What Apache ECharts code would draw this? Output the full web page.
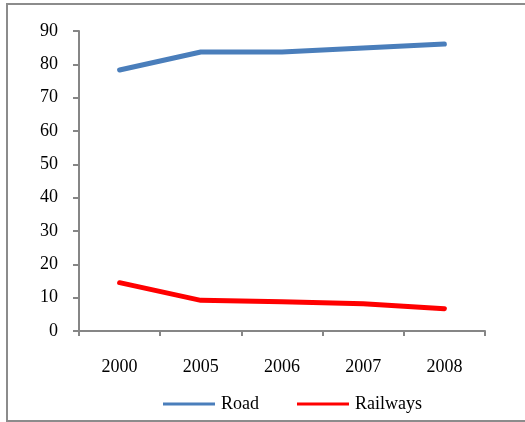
<!DOCTYPE html>
<html>
<head>
<meta charset="utf-8">
<script src="https://cdn.jsdelivr.net/npm/echarts@6/dist/echarts.min.js"></script>
<style>html,body{margin:0;padding:0;background:#fff;}#c{width:525px;height:422px;}</style>
</head>
<body>
<div id="c"></div>
<script>
const categories = ['2000', '2005', '2006', '2007', '2008'];
const roadValues = [78.3, 83.7, 83.7, 84.9, 86.1];
const railwayValues = [14.5, 9.2, 8.8, 8.2, 6.7];
const yTicks = [0, 10, 20, 30, 40, 50, 60, 70, 80, 90];

const font = 'Liberation Serif, Times New Roman, serif';
const axisColor = '#868686';
const chart = echarts.init(document.getElementById('c'), null, {renderer: 'canvas'});
chart.setOption({
  animation: false,
  backgroundColor: '#fff',
  graphic: [{
    type: 'rect',
    shape: {x: 7, y: 4, width: 540, height: 417},
    style: {fill: 'none', stroke: '#8c8c8c', lineWidth: 2},
    silent: true
  }],
  grid: {left: 79, right: 40, top: 31, bottom: 91, containLabel: false},
  legend: {
    left: 163, top: 395, padding: 0,
    itemWidth: 52, itemHeight: 3, itemGap: 38,
    icon: 'rect',
    textStyle: {fontFamily: font, fontSize: 18, color: '#000', padding: [0, 0, 0, 1]},
    data: [{name: 'Road'}, {name: 'Railways'}]
  },
  xAxis: {
    type: 'category',
    data: categories,
    boundaryGap: true,
    axisLine: {lineStyle: {color: axisColor, width: 2}},
    axisTick: {show: true, length: 5, alignWithLabel: false, lineStyle: {color: axisColor, width: 2}},
    axisLabel: {margin: 27, fontFamily: font, fontSize: 18, color: '#000'},
    splitLine: {show: false}
  },
  yAxis: {
    type: 'value',
    min: yTicks[0], max: yTicks[yTicks.length - 1], interval: 10,
    axisLine: {show: true, lineStyle: {color: axisColor, width: 2}},
    axisTick: {show: true, length: 6, lineStyle: {color: axisColor, width: 2}},
    axisLabel: {margin: 21, fontFamily: font, fontSize: 18, color: '#000'},
    splitLine: {show: false}
  },
  series: [
    {
      name: 'Road', type: 'line', data: roadValues,
      symbol: 'none', color: '#4a7ebb',
      lineStyle: {width: 5, color: '#4a7ebb', cap: 'round', join: 'round'}
    },
    {
      name: 'Railways', type: 'line', data: railwayValues,
      symbol: 'none', color: '#ff0000',
      lineStyle: {width: 5, color: '#ff0000', cap: 'round', join: 'round'}
    }
  ]
});
</script>
</body>
</html>
